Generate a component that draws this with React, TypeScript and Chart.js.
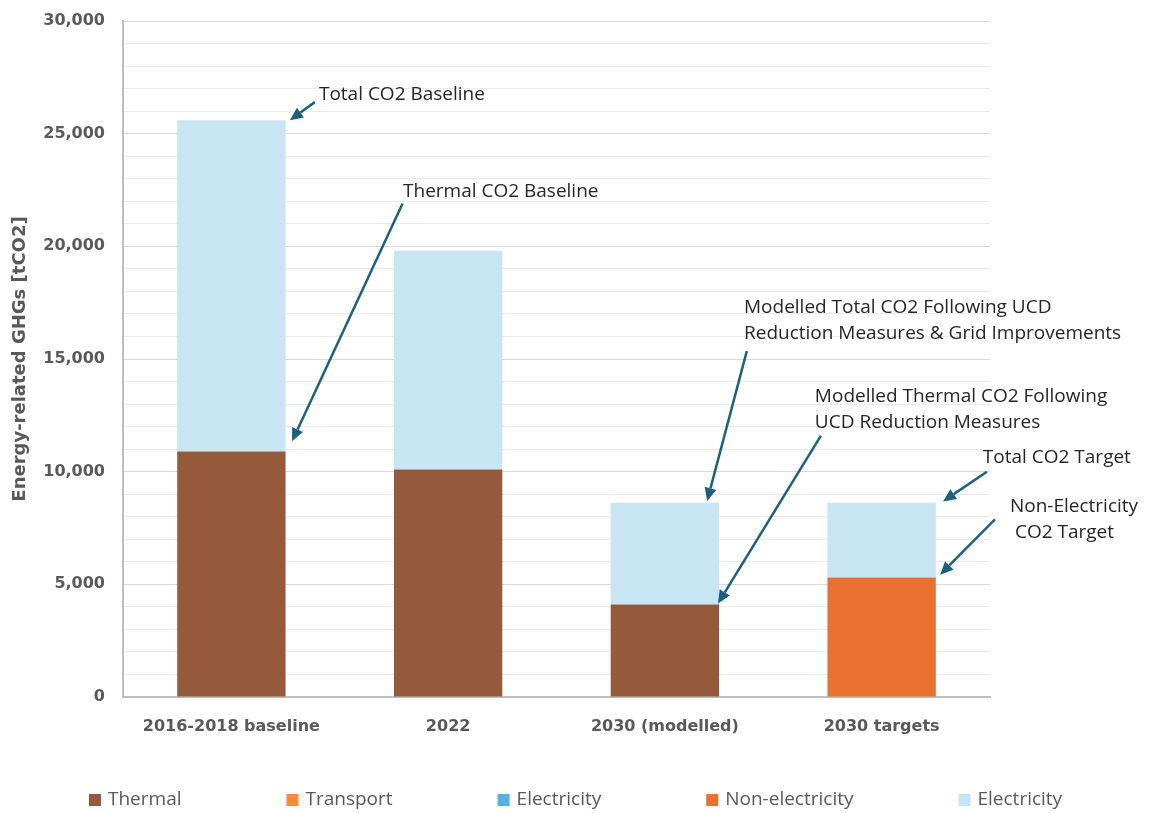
import { useEffect, useRef } from "react";
import { Chart, registerables } from "chart.js";

Chart.register(...registerables);

const categories = ["2016-2018 baseline", "2022", "2030 (modelled)", "2030 targets"];
const thermal = [10900, 10100, 4100, 0];
const transport = [0, 0, 0, 0];
const electricity = [0, 0, 0, 0];
const nonElectricity = [0, 0, 0, 5300];
const electricityLight = [14700, 9700, 4520, 3320];

const seriesLabels = ["Thermal", "Transport", "Electricity", "Non-electricity", "Electricity"];
const seriesColors = ["#955A3B", "#F98B3D", "#55B1DF", "#E9712F", "#C8E5F3"];

const yMax = 30000;
const yStep = 1000;
const yLabelEvery = 5000;
const yTitle = "Energy-related GHGs [tCO2]";

// annotation anchors in (category index, value) units
const annotations = [
  { lines: ["Total CO2 Baseline"], indents: [0], text: [0.404, 26750], tail: [0.385, 26400], tip: [0.27, 25600] },
  { lines: ["Thermal CO2 Baseline"], indents: [0], text: [0.792, 22430], tail: [0.79, 21900], tip: [0.28, 11350] },
  {
    lines: ["Modelled Total CO2 Following UCD", "Reduction Measures & Grid Improvements"],
    indents: [0, 0],
    text: [2.365, 17290],
    tail: [2.378, 15350],
    tip: [2.195, 8700],
  },
  {
    lines: ["Modelled Thermal CO2 Following", "UCD Reduction Measures"],
    indents: [0, 0],
    text: [2.692, 13340],
    tail: [2.72, 11600],
    tip: [2.245, 4150],
  },
  { lines: ["Total CO2 Target"], indents: [0], text: [3.467, 10630], tail: [3.486, 10000], tip: [3.283, 8680] },
  {
    lines: ["Non-Electricity", "CO2 Target"],
    indents: [0, 5],
    text: [3.592, 8450],
    tail: [3.523, 7880],
    tip: [3.27, 5430],
  },
];

const annotationPlugin = {
  id: "annots",
  afterDatasetsDraw(chart: any) {
    const { ctx, scales } = chart;
    const xs = scales.x;
    const ys = scales.y;
    const x0 = xs.getPixelForValue(0);
    const step = xs.getPixelForValue(1) - x0;
    const px = (c: number) => x0 + c * step;
    const py = (v: number) => ys.getPixelForValue(v);
    ctx.save();
    for (const a of annotations) {
      ctx.font = "19px 'Open Sans'";
      ctx.fillStyle = "#262626";
      ctx.textAlign = "left";
      ctx.textBaseline = "middle";
      a.lines.forEach((t, i) => {
        ctx.fillText(t, px(a.text[0]) + a.indents[i], py(a.text[1]) + i * 26);
      });
      const tx = px(a.tail[0]);
      const ty = py(a.tail[1]);
      const hx = px(a.tip[0]);
      const hy = py(a.tip[1]);
      const ang = Math.atan2(hy - ty, hx - tx);
      const headLen = 13;
      const headW = 6;
      const bx = hx - headLen * Math.cos(ang);
      const by = hy - headLen * Math.sin(ang);
      ctx.strokeStyle = "#1E5F7D";
      ctx.fillStyle = "#1E5F7D";
      ctx.lineWidth = 2.5;
      ctx.beginPath();
      ctx.moveTo(tx, ty);
      ctx.lineTo(bx, by);
      ctx.stroke();
      ctx.beginPath();
      ctx.moveTo(hx, hy);
      ctx.lineTo(bx + headW * Math.sin(ang), by - headW * Math.cos(ang));
      ctx.lineTo(bx - headW * Math.sin(ang), by + headW * Math.cos(ang));
      ctx.closePath();
      ctx.fill();
    }
    ctx.restore();
  },
};

const legendPlugin = {
  id: "bottomLegend",
  afterDraw(chart: any) {
    const { ctx } = chart;
    const y = chart.height - 13;
    let x = 89;
    const box = 12;
    const gap = 7;
    const pad = 105;
    ctx.save();
    ctx.font = "19px 'Open Sans'";
    ctx.textBaseline = "middle";
    ctx.textAlign = "left";
    chart.data.datasets.forEach((ds: any) => {
      ctx.fillStyle = ds.backgroundColor;
      ctx.fillRect(x, y - box / 2, box, box);
      ctx.fillStyle = "#595959";
      ctx.fillText(ds.label, x + box + gap, y);
      x += box + gap + ctx.measureText(ds.label).width + pad;
    });
    ctx.restore();
  },
};

export default function App() {
  const ref = useRef<HTMLCanvasElement>(null);
  useEffect(() => {
    if (!ref.current) return;
    const dataSets = [thermal, transport, electricity, nonElectricity, electricityLight];
    const chart = new Chart(ref.current, {
      type: "bar",
      data: {
        labels: categories,
        datasets: dataSets.map((d, i) => ({
          label: seriesLabels[i],
          data: d,
          backgroundColor: seriesColors[i],
          borderWidth: 0,
          barPercentage: 0.5,
          categoryPercentage: 1,
        })),
      },
      options: {
        responsive: false,
        animation: false,
        devicePixelRatio: 1,
        layout: { padding: { top: 21, right: 171, bottom: 76, left: 0 } },
        plugins: {
          legend: { display: false },
          tooltip: { enabled: false },
        },
        scales: {
          x: {
            stacked: true,
            grid: { display: false },
            border: { display: true, color: "#BFBFBF", width: 2 },
            ticks: {
              color: "#595959",
              font: { family: "'DejaVu Sans'", weight: "bold", size: 16 },
              padding: 12,
              maxRotation: 0,
            },
            afterFit: (s: any) => {
              s.height = 40;
              s.paddingLeft = 0;
              s.paddingRight = 0;
            },
          },
          y: {
            stacked: true,
            min: 0,
            max: yMax,
            grid: {
              drawTicks: false,
              color: (c: any) => (c.tick && c.tick.value % yLabelEvery === 0 ? "#D9D9D9" : "#ECECEC"),
              lineWidth: 1,
            },
            border: { display: true, color: "#BFBFBF", width: 2 },
            ticks: {
              stepSize: yStep,
              autoSkip: false,
              color: "#595959",
              font: { family: "'DejaVu Sans'", weight: "bold", size: 16 },
              padding: 18,
              callback: (v: any) => (Number(v) % yLabelEvery === 0 ? Number(v).toLocaleString("en-US") : ""),
            },
            title: {
              display: true,
              text: yTitle,
              color: "#595959",
              font: { family: "'DejaVu Sans'", weight: "bold", size: 18 },
              padding: { top: 10, bottom: 0 },
            },
            afterFit: (s: any) => {
              s.width = 123;
              s.paddingTop = 0;
              s.paddingBottom = 0;
            },
          },
        },
      },
      plugins: [annotationPlugin, legendPlugin],
    });
    return () => chart.destroy();
  }, []);
  return (
    <div style={{ position: "absolute", left: 0, top: 0, width: 1161, height: 813, background: "#fff" }}>
      <canvas ref={ref} width={1161} height={813} />
    </div>
  );
}
